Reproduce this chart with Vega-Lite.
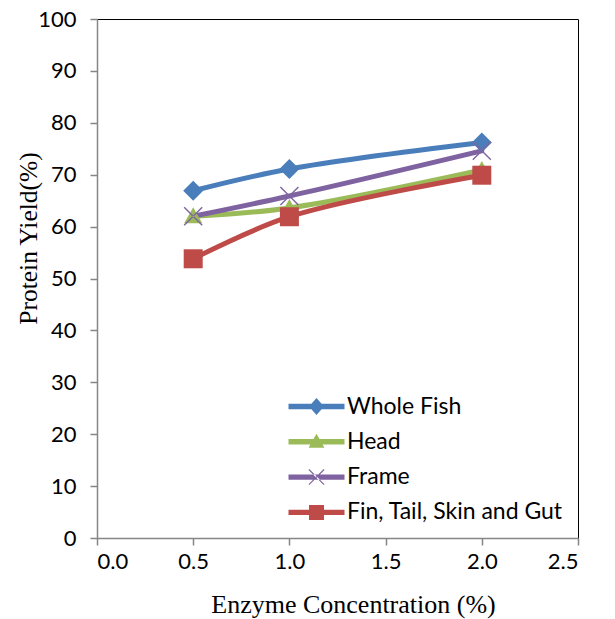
{
  "$schema": "https://vega.github.io/schema/vega-lite/v6.json",
  "width": 481,
  "height": 519,
  "autosize": {"type": "none"},
  "padding": {"left": 97, "top": 19, "right": 37, "bottom": 81},
  "background": "white",
  "config": {
    "view": {"stroke": "black", "strokeWidth": 1},
    "axis": {
      "grid": false,
      "domainColor": "#868686",
      "domainWidth": 1.5,
      "tickColor": "#868686",
      "tickWidth": 1.5,
      "tickSize": 7,
      "labelFont": "Lato",
      "labelFontSize": 22,
      "labelColor": "black",
      "titleFont": "Liberation Serif",
      "titleFontSize": 26,
      "titleFontWeight": "normal",
      "titleColor": "black"
    },
    "legend": {
      "labelFont": "Lato",
      "labelFontSize": 23,
      "labelColor": "black",
      "labelLimit": 0
    }
  },
  "data": {
    "values": [
      {"series": "Whole Fish", "conc": 0.5, "yield": 66.9},
      {"series": "Whole Fish", "conc": 1.0, "yield": 71.1},
      {"series": "Whole Fish", "conc": 2.0, "yield": 76.2},
      {"series": "Head", "conc": 0.5, "yield": 62.0},
      {"series": "Head", "conc": 1.0, "yield": 63.6},
      {"series": "Head", "conc": 2.0, "yield": 70.9},
      {"series": "Frame", "conc": 0.5, "yield": 62.0},
      {"series": "Frame", "conc": 1.0, "yield": 65.9},
      {"series": "Frame", "conc": 2.0, "yield": 74.6},
      {"series": "Fin, Tail, Skin and Gut", "conc": 0.5, "yield": 53.8},
      {"series": "Fin, Tail, Skin and Gut", "conc": 1.0, "yield": 61.9},
      {"series": "Fin, Tail, Skin and Gut", "conc": 2.0, "yield": 69.9}
    ]
  },
  "encoding": {
    "x": {
      "field": "conc",
      "type": "quantitative",
      "scale": {"domain": [0, 2.5], "nice": false, "zero": false},
      "axis": {
        "title": "Enzyme Concentration (%)",
        "values": [0, 0.5, 1, 1.5, 2, 2.5],
        "format": ".1f",
        "labelPadding": 6,
        "titleX": 256,
        "titleY": 74,
        "titleBaseline": "alphabetic"
      }
    },
    "y": {
      "field": "yield",
      "type": "quantitative",
      "scale": {"domain": [0, 100], "nice": false},
      "axis": {
        "title": "Protein Yield(%)",
        "values": [0, 10, 20, 30, 40, 50, 60, 70, 80, 90, 100],
        "labelPadding": 14,
        "titleX": -61,
        "titleY": 219,
        "titleBaseline": "alphabetic",
        "titleFontSize": 25.5
      }
    },
    "color": {
      "field": "series", "type": "nominal", "sort": null,
      "scale": {"domain": ["Whole Fish", "Head", "Frame", "Fin, Tail, Skin and Gut"], "range": ["#4a7ebb", "#9bbb59", "#7f63a1", "#be4b48"]},
      "legend": {"title": null, "orient": "none", "legendX": 208, "legendY": 376, "padding": 0, "symbolSize": 400, "symbolStrokeWidth": 0, "symbolOpacity": 1, "labelOffset": 19, "rowPadding": 11.3, "labelLimit": 0}
    }
  },
  "layer": [
    {
      "transform": [{"filter": "datum.conc < 0"}],
      "mark": {"type": "point", "filled": true, "size": 400, "strokeWidth": 0},
      "encoding": {
        "shape": {
          "field": "series", "type": "nominal", "sort": null,
          "scale": {
            "domain": ["Whole Fish", "Head", "Frame", "Fin, Tail, Skin and Gut"],
            "range": [
              "M-2.8,-0.27H2.8V0.27H-2.8Z M0,-0.85L0.75,0L0,0.85L-0.75,0Z",
              "M-2.8,-0.27H2.8V0.27H-2.8Z M0,-0.8L0.8,0.6L-0.8,0.6Z",
              "M-2.8,-0.27H2.8V0.27H-2.8Z M-0.8,-0.72L0.72,0.8L0.8,0.72L-0.72,-0.8Z M-0.8,0.72L0.72,-0.8L0.8,-0.72L-0.72,0.8Z",
              "M-2.8,-0.27H2.8V0.27H-2.8Z M-0.75,-0.75H0.75V0.75H-0.75Z"
            ]
          },
          "legend": {"title": null, "orient": "none", "legendX": 208, "legendY": 376, "padding": 0, "symbolSize": 400, "symbolStrokeWidth": 0, "symbolOpacity": 1, "labelOffset": 19, "rowPadding": 11.3, "labelLimit": 0}
        }
      }
    },
    {
      "mark": {"type": "line", "interpolate": "catmull-rom", "strokeWidth": 5, "strokeCap": "round", "strokeJoin": "round"}
    },
    {
      "transform": [{"filter": "datum.series === 'Whole Fish'"}],
      "mark": {"type": "point", "filled": true, "opacity": 1, "size": 400, "strokeWidth": 0, "shape": "M0,-1L1,0L0,1L-1,0Z"}
    },
    {
      "transform": [{"filter": "datum.series === 'Head'"}],
      "mark": {"type": "point", "filled": true, "opacity": 1, "size": 400, "strokeWidth": 0, "shape": "M0,-0.9L0.9,0.7L-0.9,0.7Z"}
    },
    {
      "transform": [{"filter": "datum.series === 'Frame'"}],
      "mark": {"type": "point", "filled": true, "opacity": 1, "size": 400, "strokeWidth": 0, "shape": "M-0.95,-0.85L0.85,0.95L0.95,0.85L-0.85,-0.95Z M-0.95,0.85L0.85,-0.95L0.95,-0.85L-0.85,0.95Z"}
    },
    {
      "transform": [{"filter": "datum.series === 'Fin, Tail, Skin and Gut'"}],
      "mark": {"type": "point", "filled": true, "opacity": 1, "size": 400, "strokeWidth": 0, "shape": "M-0.95,-0.95H0.95V0.95H-0.95Z"}
    }
  ]
}
